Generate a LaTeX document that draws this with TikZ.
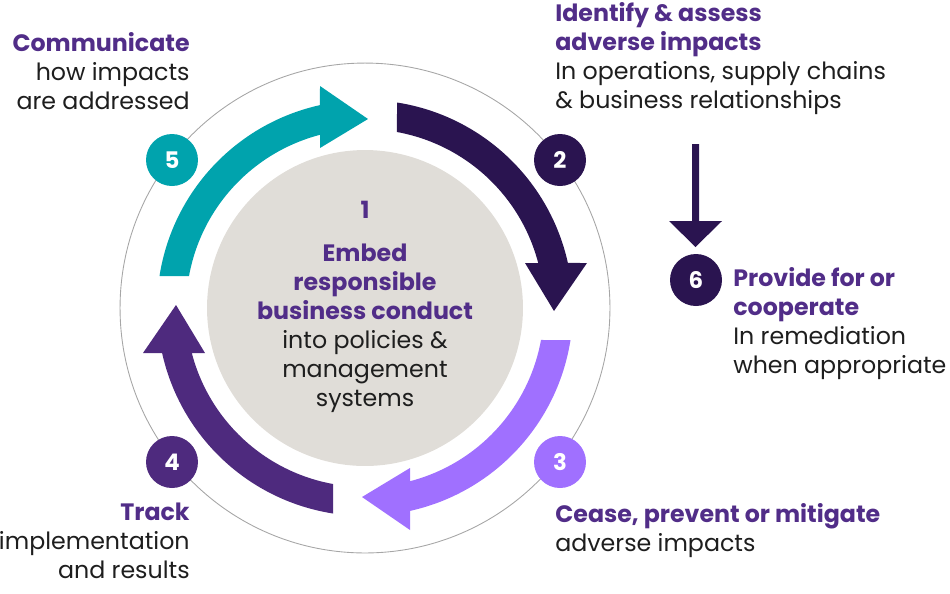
\documentclass[tikz,border=0pt]{standalone}
\usepackage{fontspec}
\setmainfont{Poppins}
\begin{document}
\definecolor{dk}{HTML}{2A1450}
\definecolor{pu}{HTML}{4E2A7E}
\definecolor{lp}{HTML}{A070FF}
\definecolor{tl}{HTML}{00A3AD}
\definecolor{gy}{HTML}{E0DDD8}
\definecolor{tx}{HTML}{1E1E1E}
\definecolor{hdc}{HTML}{512D88}
\begin{tikzpicture}[x=0.02cm,y=-0.02cm,
 num/.style={circle,minimum size=1.04cm,inner sep=0,text=white,font=\fontsize{13}{15}\selectfont\bfseries},
 lab/.style={font=\fontsize{13.5}{16.5}\selectfont,text=tx,inner sep=0,align=#1}]
\useasboundingbox (0,0) rectangle (950,593);
\coordinate (c) at (365,308);
\draw[gray!70,line width=0.5pt] (c) circle[radius=4.9cm];
\fill[gy] (c) circle[radius=3.16cm];
\foreach \r/\col in {0/dk,90/lp,180/pu,270/tl}{
 \begin{scope}[shift={(c)},yscale=-1,rotate=\r]
  \fill[\col] (32,205.5) arc[start angle=81.1,end angle=12.5,radius=208]
   -- (222,45) -- (189,-3) -- (160,45) -- (173.2,45)
   arc[start angle=14.6,end angle=79.7,radius=179] -- cycle;
 \end{scope}}
\node[num,fill=tl] (n5) at (172,160) {5};
\node[num,fill=dk] (n2) at (560,160) {2};
\node[num,fill=lp] (n3) at (560,462) {3};
\node[num,fill=pu] (n4) at (172,462) {4};
\node[num,fill=dk] (n6) at (696,280) {6};
\fill[dk] (692,144) -- (699,144) -- (699,221) -- (722,221) -- (695.5,247) -- (669,221) -- (692,221) -- cycle;
% texts
\node[lab=center,anchor=north] (t1) at (365,201) {{\color{hdc}\bfseries 1}\\[8pt]
 {\color{hdc}\bfseries Embed}\\{\color{hdc}\bfseries responsible}\\{\color{hdc}\bfseries business conduct}\\into policies \&\\management\\systems};
\node[lab=left,anchor=north west] (t2) at (555,2) {{\color{hdc}\bfseries Identify \& assess}\\{\color{hdc}\bfseries adverse impacts}\\In operations, supply chains\\\& business relationships};
\node[lab=left,anchor=north west] (t6) at (733,267) {{\color{hdc}\bfseries Provide for or}\\{\color{hdc}\bfseries cooperate}\\In remediation\\when appropriate};
\node[lab=left,anchor=north west] (t3) at (555,503) {{\color{hdc}\bfseries Cease, prevent or mitigate}\\adverse impacts};
\node[lab=right,anchor=north east] (t4) at (190,503) {{\color{hdc}\bfseries Track}\\implementation\\and results};
\node[lab=right,anchor=north east] (t5) at (190,32) {{\color{hdc}\bfseries Communicate}\\how impacts\\are addressed};
\end{tikzpicture}
\end{document}
